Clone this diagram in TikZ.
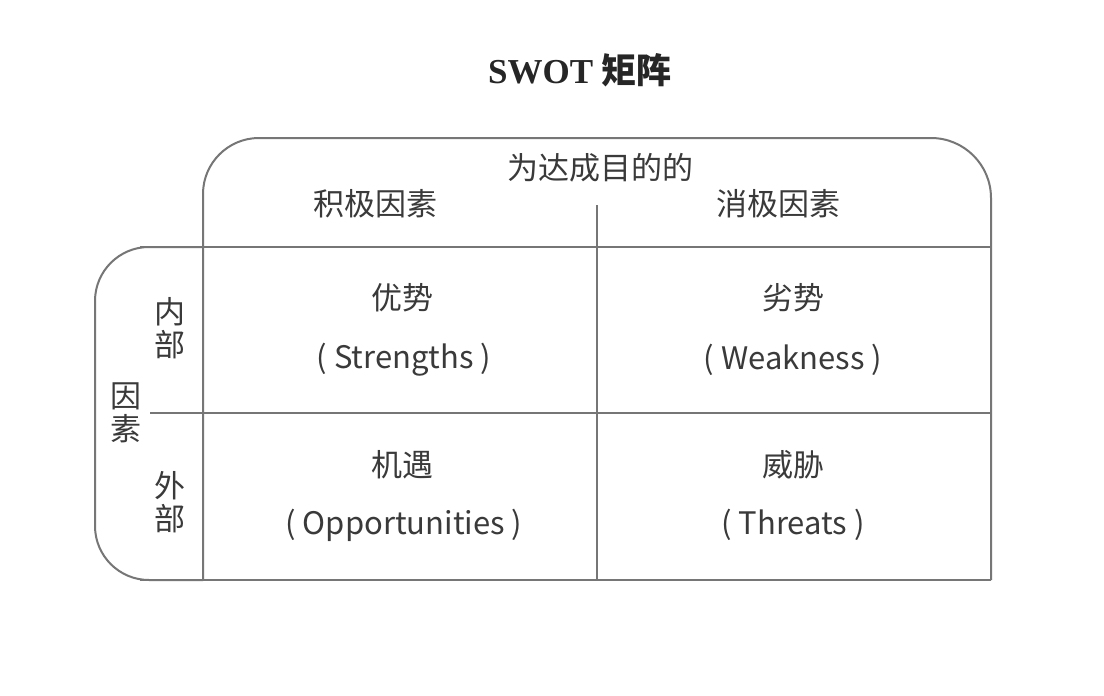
\documentclass[tikz,border=0pt]{standalone}
\usepackage{fontspec}
\usepackage{xcolor}
\usetikzlibrary{positioning}
\setmainfont{Liberation Serif}
\newfontfamily\cjk{Noto Sans CJK SC}
\definecolor{swLine}{RGB}{118,118,118}
\definecolor{swText}{RGB}{58,58,58}

\begin{document}
\begin{tikzpicture}[
  x=0.5pt, y=-0.5pt,
  frame/.style={draw=swLine, line width=1pt},
  lbl/.style={text=swText, font=\cjk\fontsize{15.5}{18}\selectfont, inner sep=0pt},
  vlbl/.style={lbl, align=center, font=\cjk\fontsize{15.5}{16.5}\selectfont}
]
\useasboundingbox[fill=white] (0,0) rectangle (1104,696);

% frames
\draw[frame, rounded corners=28pt] (203,580) -- (203,138) -- (700,138);
\draw[frame, rounded corners=30pt] (700,138) -- (991,138) -- (991,580);
\draw[frame, rounded corners=27pt] (203,247) -- (95,247) -- (95,580) -- (203,580);
\draw[frame] (140,247) -- (991,247);
\draw[frame] (150,413) -- (991,413);
\draw[frame] (140,580) -- (991,580);
\draw[frame] (597,205) -- (597,580);

% texts
\node[font=\bfseries\fontsize{17.5}{19}\selectfont, text=black!85] (title) at (580,70) {SWOT {\cjk\bfseries 矩阵}};
\node[lbl] (goal) at (600,168) {为达成目的的};
\node[lbl] (pos) at (375,204) {积极因素};
\node[lbl] (neg) at (778,204) {消极因素};

\node[lbl] (s) at (402,298) {优势};
\node[lbl] (sen) at (404,360) {( Strengths )};
\node[lbl] (w) at (793,298) {劣势};
\node[lbl] (wen) at (793,360) {( Weakness )};
\node[lbl] (o) at (402,465) {机遇};
\node[lbl] (oen) at (404,525) {( Opportunities )};
\node[lbl] (t) at (793,465) {威胁};
\node[lbl] (ten) at (793,525) {( Threats )};

\node[vlbl] (inner) at (170,328) {内\\部};
\node[vlbl] (factor) at (126,413) {因\\素};
\node[vlbl] (outer) at (170,502) {外\\部};
\end{tikzpicture}
\end{document}
